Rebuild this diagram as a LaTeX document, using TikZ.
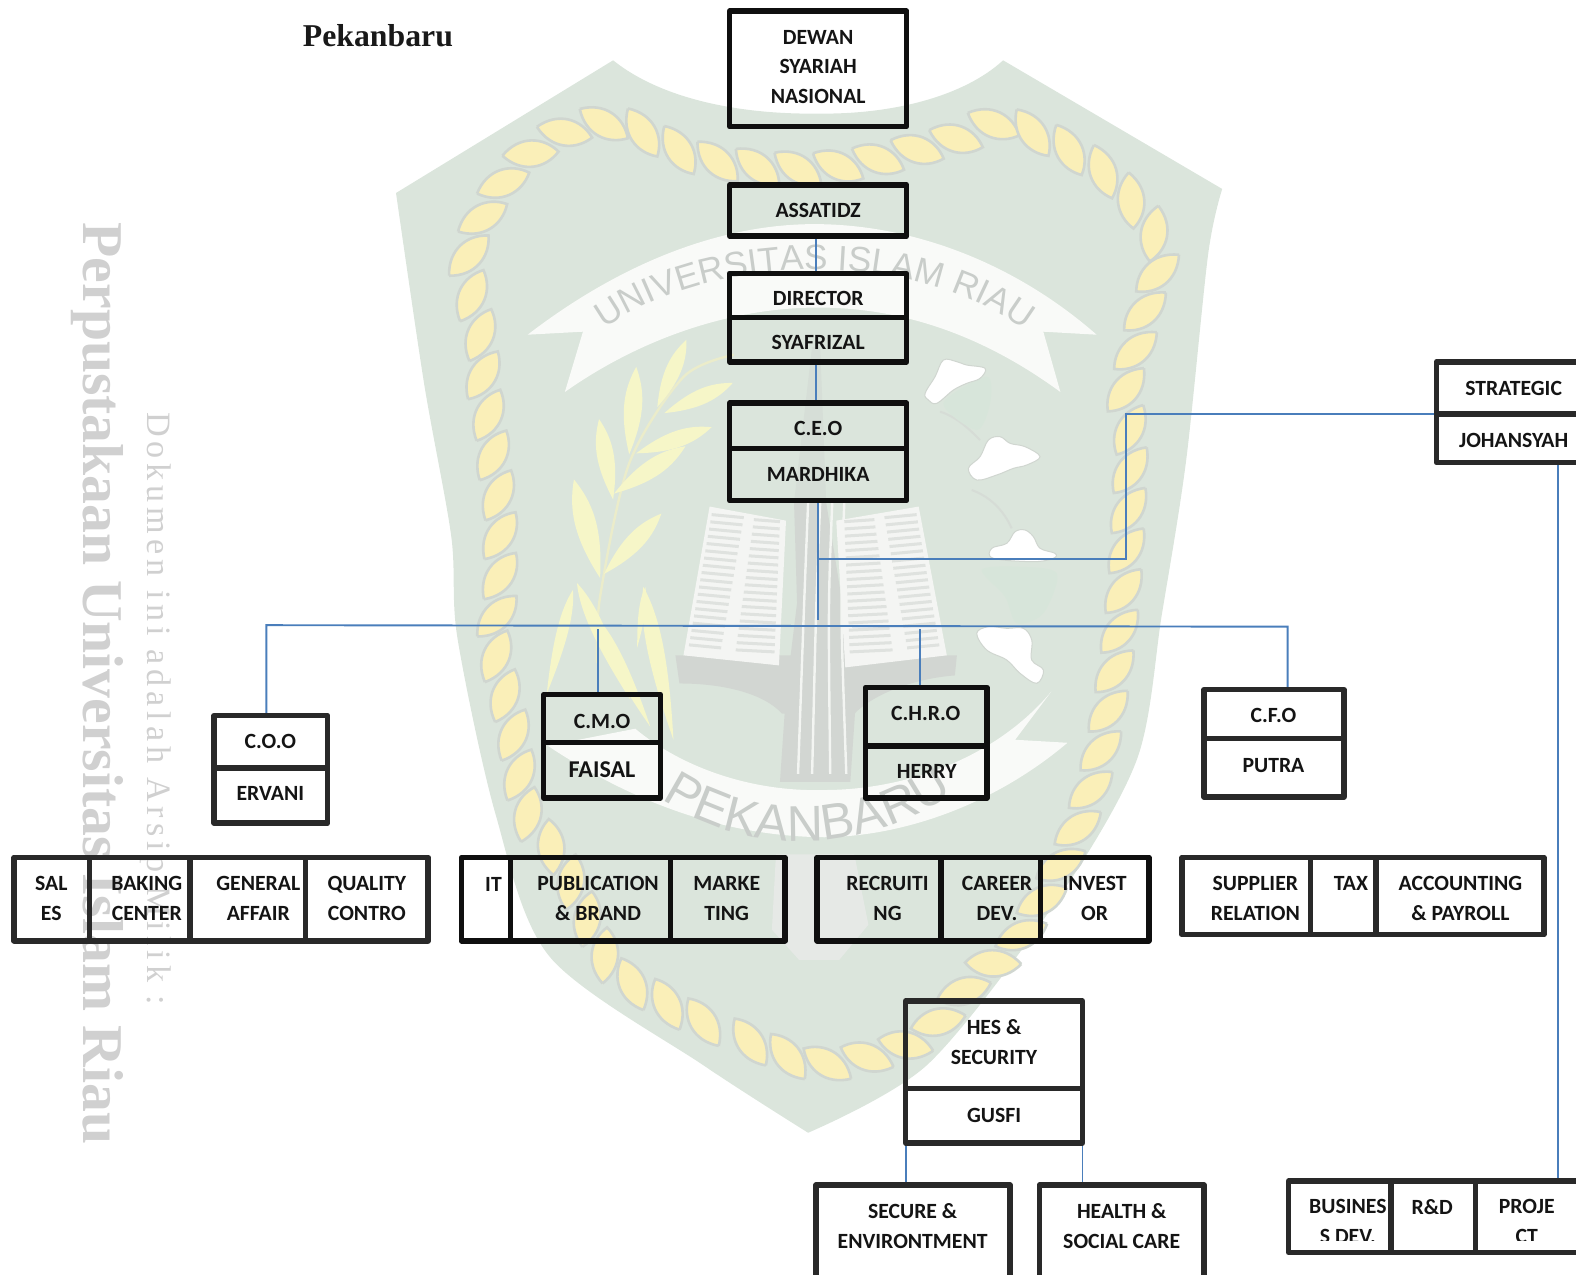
\documentclass[tikz,border=0pt]{standalone}
\usepackage{fontspec}
\setmainfont{Carlito}
\newfontfamily\serifwm{Liberation Serif}
\newfontfamily\sanswm{Liberation Sans}
\usetikzlibrary{calc,decorations.markings,decorations.text}
\definecolor{shieldc}{HTML}{DBE5DC}
\definecolor{ropec}{HTML}{FAEFB8}
\definecolor{ropeedge}{HTML}{D0D6D0}
\definecolor{leafc}{HTML}{F6F6C8}
\definecolor{ribbonc}{HTML}{F9FAF8}
\definecolor{wmgray}{HTML}{C9CDCA}
\definecolor{bandc}{HTML}{D2D6D2}
\definecolor{landc}{HTML}{D7E5DA}
\definecolor{sidec}{HTML}{D0D0D0}
\definecolor{linkc}{HTML}{4A7EBB}
\definecolor{textc}{HTML}{141414}
\colorlet{boxc}{black!94}
\tikzset{
  boxst/.style={draw=boxc,line width=2.7pt,line join=round,inner sep=0pt,fill=none},
  lab/.style={font=\bfseries\fontsize{10.8pt}{14.8pt}\selectfont,text=textc,align=center,inner sep=0pt},
  link/.style={draw=linkc,line width=0.95pt},
  cloudst/.style={fill=white,draw=ropeedge,line width=0.5pt},
}
\newcommand{\wleaf}[5][leafc]{\fill[#1] (#2,#3) .. controls ($(#2,#3)!.5!18:(#4,#5)$) and ($(#2,#3)!.75!9:(#4,#5)$) .. (#4,#5) .. controls ($(#2,#3)!.75!-9:(#4,#5)$) and ($(#2,#3)!.5!-18:(#4,#5)$) .. (#2,#3);}
\newcommand{\wblade}[5][leafc]{\fill[#1] (#2,#3) .. controls ($(#2,#3)!.5!8:(#4,#5)$) and ($(#2,#3)!.8!5:(#4,#5)$) .. (#4,#5) .. controls ($(#2,#3)!.8!-5:(#4,#5)$) and ($(#2,#3)!.5!-8:(#4,#5)$) .. (#2,#3);}
\newcommand{\bx}[8]{%
  \pgfmathsetmacro\bxcx{(#2+#4)/2}\pgfmathsetmacro\bxcy{(#3+#5)/2}%
  \pgfmathsetmacro\bxw{(#4-#2)*0.5}\pgfmathsetmacro\bxh{(#5-#3)*0.5}%
  \node[boxst,minimum width=\bxw pt,minimum height=\bxh pt] (#1) at (\bxcx,\bxcy) {};%
  \node[lab] (#1-t) at (#6,#7) {#8};}
\begin{document}
\begin{tikzpicture}[x=0.5pt,y=-0.5pt]
\useasboundingbox (0,0) rectangle (1568,1268);
% ---------- watermark ----------
\fill[shieldc] (394,192) -- (610,60) .. controls (660,100) and (740,114) .. (814,113) .. controls (890,114) and (960,95) .. (998,60) -- (1216,188)
  -- plot[smooth] coordinates {(1216,188) (1202,253) (1180,459) (1156,611) (1131,756) (1050,898) (923,1059) (804,1127)}
  -- plot[smooth] coordinates {(804,1127) (700,1060) (547,952) (493,810) (455,634) (449,534) (422,382) (394,192)} -- cycle;
% rope
\path[decoration={markings,mark=between positions 0 and 0.995 step 20.08pt with {\filldraw[fill=ropec,draw=ropeedge,line width=1.3pt,rotate=-34] (-14pt,0pt) .. controls (-5pt,9.5pt) and (7pt,8pt) .. (14pt,0pt) .. controls (7pt,-8pt) and (-5pt,-9.5pt) .. (-14pt,0pt);}},decorate]
  plot[smooth cycle] coordinates {(796,1055) (700,1017) (657,995) (607,959) (558,857) (525,810) (509,721) (492,642) (497,592) (497,508) (492,467) (487,420) (481,382) (479,340) (470,298) (466,257) (481,215) (514,165) (563,131) (618,124) (690,155) (754,166) (815,167) (875,158) (951,138) (995,123) (1050,142) (1105,177) (1147,230) (1153,265) (1142,299) (1131,344) (1120,390) (1125,443) (1120,561) (1110,660) (1093,757) (1066,839) (1011,938) (973,970) (918,1031) (848,1055)};
% upper ribbon
\fill[ribbonc] (525,333) .. controls (620,260) and (720,222) .. (814,223) .. controls (910,224) and (1010,262) .. (1091,333) -- (1038,330) -- (1055,390)
  .. controls (980,335) and (900,306) .. (814,306) .. controls (730,306) and (640,335) .. (562,390) -- (580,330) -- cycle;
\path[decoration={text along path,text align=center,text={|\sanswm\fontsize{17.5pt}{19pt}\selectfont\color{wmgray}|UNIVERSITAS ISLAM RIAU}},decorate]
  (585,340) .. controls (690,248) and (925,240) .. (1035,342);
% lower ribbon
\fill[ribbonc] (545,742) -- (632,725) .. controls (680,765) and (750,788) .. (820,786) .. controls (900,786) and (990,755) .. (1046,688) -- (1010,736) -- (1062,739)
  .. controls (990,800) and (900,832) .. (820,833) .. controls (730,832) and (640,805) .. (545,742) -- cycle;
\path[decoration={text along path,text align=center,text={|\sanswm\fontsize{25pt}{27pt}\selectfont\color{wmgray}|PEKANBARU}},decorate]
  (640,782) .. controls (730,856) and (870,856) .. (966,775);
% branch
\draw[leafc!70!ropeedge,line width=1.2pt] plot[smooth] coordinates {(594,660) (597,594) (626,461) (680,375) (730,353)};
\wleaf{597}{575}{571}{477}
\wleaf{601}{571}{658}{511}
\wleaf{610}{497}{596}{417}
\wleaf{611}{491}{682}{444}
\wleaf{626}{452}{633}{365}
\wleaf{633}{451}{708}{425}
\wleaf{654}{405}{683}{338}
\wleaf{661}{411}{729}{381}
% wheat
\wblade{544}{690}{570}{587}
\wblade{627}{696}{574}{580}
\wblade{647}{723}{590}{610}
\wblade{670}{736}{640}{584}
\wblade{634}{644}{642}{584}
% land and clouds
\begin{scope}[shift={(895.5,338.3)},x=0.1658pt,y=-0.1658pt]
\draw[bandc!60!shieldc,line width=1pt] (120,215) .. controls (170,230) and (210,270) .. (240,300);
\draw[bandc!60!shieldc,line width=1pt] (215,450) .. controls (270,470) and (310,510) .. (335,565);
\fill[landc] plot[smooth cycle] coordinates {(245,690) (350,680) (470,700) (430,820) (350,850) (315,770)};
\fill[landc] plot[smooth cycle] coordinates {(130,190) (260,110) (270,190) (230,270)};
\filldraw[cloudst] plot[smooth cycle,tension=.6] coordinates {(75,160) (105,110) (130,60) (170,65) (200,75) (255,85) (240,115) (200,130) (160,150) (110,190) (85,180)};
\filldraw[cloudst] plot[smooth cycle,tension=.6] coordinates {(205,385) (240,350) (265,300) (300,290) (330,310) (375,320) (420,350) (380,375) (340,385) (290,405) (230,420)};
\filldraw[cloudst] plot[smooth cycle,tension=.6] coordinates {(275,625) (320,610) (345,575) (375,570) (400,590) (420,625) (465,640) (460,655) (400,665) (280,655)};
\filldraw[cloudst] plot[smooth cycle,tension=.6] coordinates {(230,880) (265,860) (320,865) (370,865) (395,900) (395,960) (430,990) (410,1030) (360,1000) (320,960) (260,930)};
\end{scope}
% gray band and book
\fill[bandc] (672,652) -- (952,652) -- (950,672) .. controls (910,675) and (870,690) .. (850,710) -- (778,710) .. controls (760,690) and (720,680) .. (676,680) -- cycle;
\fill[bandc!50!shieldc] (808,345) -- (816,345) -- (822,500) -- (790,500) -- cycle;
\fill[bandc] (790,500) -- (822,500) -- (838,600) -- (852,690) -- (846,778) -- (776,778) -- (782,690) -- (793,600) -- cycle;
\fill[bandc!55!white] (772,850) -- (850,850) -- (864,920) -- (835,955) -- (795,955) -- (768,925) -- cycle;
\foreach \xa/\xb in {800/794,812/808,824/826,836/842}{\draw[ribbonc!85!bandc,line width=1.2pt] (\xa+4,500) .. controls (\xa,600) .. (\xb,770);}
\fill[ribbonc!96!gray] (706,504) -- (782,518) -- (775,662) -- (680,652) -- cycle;
\fill[ribbonc!96!gray] (914,504) -- (832,518) -- (841,664) -- (942,652) -- cycle;
\foreach \k in {0,...,18}{
  \pgfmathsetmacro\yy{512+\k*7.2}
  \pgfmathsetmacro\xl{708-\k*1.25}
  \pgfmathsetmacro\xm{740-\k*1.25}
  \pgfmathsetmacro\xn{750-\k*1}
  \pgfmathsetmacro\xo{776-\k*0.3}
  \draw[bandc!70!white,line width=1.5pt] (\xl,\yy) -- (\xm,\yy+3);
  \draw[bandc!70!white,line width=1.5pt] (\xn,\yy+5) -- (\xo,\yy+7);
  \pgfmathsetmacro\xr{912+\k*1.25}
  \pgfmathsetmacro\xs{880+\k*1.25}
  \pgfmathsetmacro\xt{870+\k*1}
  \pgfmathsetmacro\xu{840+\k*0.3}
  \draw[bandc!70!white,line width=1.5pt] (\xr,\yy) -- (\xs,\yy+3);
  \draw[bandc!70!white,line width=1.5pt] (\xt,\yy+5) -- (\xu,\yy+7);
}
% side texts
\node[rotate=-90,text=sidec,font=\serifwm\bfseries\fontsize{28.7pt}{30pt}\selectfont,inner sep=0pt] (sideA) at (97,680) {Perpustakaan Universitas Islam Riau};
\node[rotate=-90,text=sidec,font=\serifwm\fontsize{17pt}{18pt}\selectfont\addfontfeature{LetterSpace=14.5},inner sep=0pt] (sideB) at (155,705) {Dokumen ini adalah Arsip Milik :};
\node[anchor=west,font=\serifwm\bfseries\fontsize{15.8pt}{18pt}\selectfont,text=black!90,inner sep=0pt] (title) at (301,35) {Pekanbaru};
% ---------- boxes ----------
\begin{scope}
\clip (1282,1170) rectangle (1580,1234);
\node[lab] (busdev-t) at (1341,1215.5) {BUSINES\\S DEV.};
\node[lab] (proj-t) at (1519,1215.5) {PROJE\\CT};
\end{scope}
\bx{dewan}{726}{11}{902}{126}{814}{66.5}{DEWAN\\SYARIAH\\NASIONAL}
\bx{assatidz}{726}{184}{902}{235}{814}{209.5}{ASSATIDZ}
\bx{director}{726}{272}{902}{316}{814}{297}{DIRECTOR}
\bx{syafrizal}{726}{316}{902}{360}{814}{340.5}{SYAFRIZAL}
\bx{ceo}{726}{401}{902}{446}{814}{426.5}{C.E.O}
\bx{mardhika}{726}{446}{902}{498}{814}{472}{MARDHIKA}
\bx{cmo}{541}{691}{657}{739}{599}{718}{C.M.O}
\bx{faisal}{541}{739}{657}{794}{599}{766}{\fontsize{12pt}{14pt}\selectfont FAISAL}
\bx{chro}{861}{684}{982}{742}{921}{710}{C.H.R.O}
\bx{herry}{861}{742}{982}{794}{922}{768}{HERRY}
\bx{it}{459}{853}{508}{936}{491}{880}{IT}
\bx{pub}{508}{853}{667}{936}{595}{894}{PUBLICATION\\\& BRAND}
\bx{market}{667}{853}{781}{936}{723}{894}{MARKE\\TING}
\bx{recruit}{813}{853}{936}{936}{883}{894}{RECRUITI\\NG}
\bx{career}{936}{853}{1035}{936}{992}{894}{CAREER\\DEV.}
\bx{invest}{1035}{853}{1143}{936}{1089}{894}{INVEST\\OR}
\colorlet{boxc}{black!84}
\bx{strategic}{1429}{360}{1584}{412}{1506}{386}{STRATEGIC}
\bx{johansyah}{1429}{412}{1584}{460}{1506}{438}{JOHANSYAH}
\bx{coo}{213}{712}{326}{764}{269}{738}{C.O.O}
\bx{ervani}{213}{764}{326}{819}{269}{789.5}{ERVANI}
\bx{cfo}{1198}{686}{1337}{735}{1267}{712}{C.F.O}
\bx{putra}{1198}{735}{1337}{793}{1267}{762}{PUTRA}
\bx{sales}{14}{853}{89}{936}{51}{894}{SAL\\ES}
\bx{baking}{89}{853}{189}{936}{146}{894}{BAKING\\CENTER}
\bx{general}{189}{853}{304}{936}{257}{894}{GENERAL\\AFFAIR}
\bx{quality}{304}{853}{426}{936}{365}{894}{QUALITY\\CONTRO}
\bx{supplier}{1176}{853}{1304}{930}{1249}{894}{SUPPLIER\\RELATION}
\bx{tax}{1304}{853}{1369}{930}{1344}{879}{TAX}
\bx{account}{1369}{853}{1536}{930}{1453}{894}{ACCOUNTING\\\& PAYROLL}
\bx{hes}{901}{996}{1077}{1083}{989}{1037}{HES \&\\SECURITY}
\bx{gusfi}{901}{1083}{1077}{1137}{989}{1110}{GUSFI}
\bx{secure}{812}{1179}{1005}{1290}{908}{1220}{SECURE \&\\ENVIRONTMENT}
\bx{health}{1034}{1179}{1198}{1290}{1116}{1220}{HEALTH \&\\SOCIAL CARE}
\bx{busdev}{1282}{1175}{1384}{1246}{1341}{1201}{}
\bx{rnd}{1384}{1175}{1468}{1246}{1425}{1201}{R\&D}
\bx{project}{1468}{1175}{1590}{1246}{1519}{1201}{}
% ---------- connectors ----------
\coordinate (upperx) at (812,300);
\coordinate (ceoend) at (814,617);
\coordinate (branch) at (814,556);
\coordinate (bend) at (1120,556);
\coordinate (busL) at (265,622);
\coordinate (busR) at (1281,623.5);
\coordinate (cmotop) at (595,626);
\coordinate (chrotop) at (915,626);
\coordinate (projx) at (1550,700);
\coordinate (secx) at (901,1150);
\coordinate (healx) at (1077,1150);
\coordinate (stratjoin) at (strategic.south west);
\draw[link] (upperx |- assatidz.south) -- (upperx |- director.north);
\draw[link] (upperx |- syafrizal.south) -- (upperx |- ceo.north);
\draw[link] (mardhika.south) -- (ceoend);
\draw[link] (branch) -- (bend) -- ([yshift=1.25pt]bend |- stratjoin) -- ([yshift=1.25pt]stratjoin);
\draw[link] (busL |- coo.north) -- (busL) -- (busR) -- (busR |- cfo.north);
\draw[link] (cmotop) -- (cmotop |- cmo.north);
\draw[link] (chrotop) -- (chrotop |- chro.north);
\draw[link] (projx |- johansyah.south) -- (projx |- project.north);
\draw[link] (secx |- gusfi.south) -- (secx |- secure.north);
\draw[link] (healx |- gusfi.south) -- (healx |- health.north);
\end{tikzpicture}
\end{document}
